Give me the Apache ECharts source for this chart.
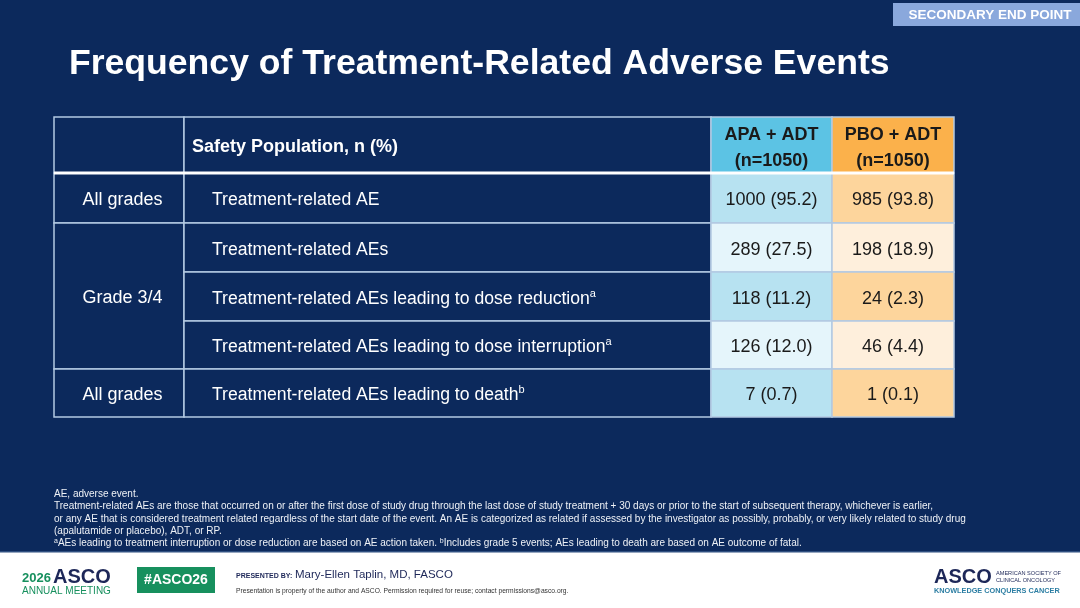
<!DOCTYPE html>
<html>
<head>
<meta charset="utf-8">
<script src="https://cdn.jsdelivr.net/npm/echarts@6.0.0/dist/echarts.min.js"></script>
<style>
  html, body { margin: 0; padding: 0; background: #0c295c; }
  #main { width: 1080px; height: 608px; }
</style>
</head>
<body>
<div id="main"></div>
<script>
// table content
var groupLabels = ['All grades', 'Grade 3/4', 'All grades'];
var groupRows = [[1, 1], [2, 4], [5, 5]];
var itemLabels = [
    'Treatment-related AE',
    'Treatment-related AEs',
    'Treatment-related AEs leading to dose reduction',
    'Treatment-related AEs leading to dose interruption',
    'Treatment-related AEs leading to death'
];
var itemNotes = ['', '', 'a', 'a', 'b'];
var armLabels = ['APA + ADT', 'PBO + ADT'];
var armN = [1050, 1050];
var apaCount = [1000, 289, 118, 126, 7];
var apaPct = ['95.2', '27.5', '11.2', '12.0', '0.7'];
var pboCount = [985, 198, 24, 46, 1];
var pboPct = ['93.8', '18.9', '2.3', '4.4', '0.1'];
var footnotes = [
    'AE, adverse event.',
    'Treatment-related AEs are those that occurred on or after the first dose of study drug through the last dose of study treatment + 30 days or prior to the start of subsequent therapy, whichever is earlier,',
    'or any AE that is considered treatment related regardless of the start date of the event. An AE is categorized as related if assessed by the investigator as possibly, probably, or very likely related to study drug',
    '(apalutamide or placebo), ADT, or RP.',
    '{s|a}AEs leading to treatment interruption or dose reduction are based on AE action taken. {s|b}Includes grade 5 events; AEs leading to death are based on AE outcome of fatal.'
];

// layout of the table (axis units = px)
var colEdges = [0, 130, 657, 778, 900];
var rowEdges = [0, 56, 106, 155, 204, 252, 300];

var navy = '#0c295c';
var lineColor = '#b3c9e2';
var apaFill = ['#5cc3e4', '#b7e2f1', '#e5f5fb'];
var pboFill = ['#fbb14b', '#fdd59c', '#feefdc'];
var FONT = 'Liberation Sans, Arial, sans-serif';

// build the cells: [col, rowStart, rowEnd]
var cellData = [];
var cells = [];
function addCell(c, r0, r1, info) {
    cellData.push([c, r0, r1]);
    cells.push(info);
}
addCell(0, 0, 0, { text: '', fill: navy });
addCell(1, 0, 0, { text: 'Safety Population, n (%)', fill: navy, color: '#fff', bold: true, pad: 8 });
addCell(2, 0, 0, { text: armLabels[0] + '\n(n=' + armN[0] + ')', fill: apaFill[0], color: '#1a1a1a', bold: true, dy: 3 });
addCell(3, 0, 0, { text: armLabels[1] + '\n(n=' + armN[1] + ')', fill: pboFill[0], color: '#1a1a1a', bold: true, dy: 3 });
for (var g = 0; g < groupLabels.length; g++) {
    addCell(0, groupRows[g][0], groupRows[g][1], { text: groupLabels[g], fill: navy, color: '#fff', dx: 3.5 });
}
for (var i = 0; i < itemLabels.length; i++) {
    var shade = i % 2 === 0 ? 1 : 2;
    addCell(1, i + 1, i + 1, {
        text: itemLabels[i] + (itemNotes[i] ? '{sup|' + itemNotes[i] + '}' : ''),
        fill: navy, color: '#fff', pad: 28, size: 17.6
    });
    addCell(2, i + 1, i + 1, { text: apaCount[i] + ' (' + apaPct[i] + ')', fill: apaFill[shade], color: '#1a1a1a' });
    addCell(3, i + 1, i + 1, { text: pboCount[i] + ' (' + pboPct[i] + ')', fill: pboFill[shade], color: '#1a1a1a' });
}

function renderCell(params, api) {
    var c = api.value(0), r0 = api.value(1), r1 = api.value(2);
    var info = cells[params.dataIndex];
    var p0 = api.coord([colEdges[c], rowEdges[r0]]);
    var p1 = api.coord([colEdges[c + 1], rowEdges[r1 + 1]]);
    var w = p1[0] - p0[0], h = p1[1] - p0[1];
    var left = info.pad != null;
    var children = [{
        type: 'rect',
        shape: { x: p0[0], y: p0[1], width: w, height: h },
        style: { fill: info.fill, stroke: lineColor, lineWidth: 1.5 },
        z2: 0
    }, {
        type: 'text',
        x: (left ? p0[0] + info.pad : p0[0] + w / 2) + (info.dx || 0),
        y: p0[1] + h / 2 + (info.dy != null ? info.dy : 2.5),
        style: {
            text: info.text,
            fill: info.color,
            fontFamily: FONT,
            fontSize: info.size || 18,
            fontWeight: info.bold ? 'bold' : 'normal',
            lineHeight: r0 === 0 && c > 1 ? 26 : 22,
            align: left ? 'left' : 'center',
            verticalAlign: 'middle',
            rich: {
                sup: { fontSize: 11, lineHeight: 12, verticalAlign: 'top', fill: info.color, fontFamily: FONT }
            }
        },
        z2: 5
    }];
    if (r0 === 0) {
        children.push({
            type: 'line',
            shape: { x1: p0[0], y1: p1[1], x2: p1[0], y2: p1[1] },
            style: { stroke: '#ffffff', lineWidth: 3 },
            z2: 10
        });
    }
    return { type: 'group', children: children };
}

var graphics = [
    // top tag
    { type: 'rect', shape: { x: 893, y: 3, width: 187, height: 23 }, style: { fill: '#8aa8dc' } },
    { type: 'text', x: 990, y: 15, style: { text: 'SECONDARY END POINT', fill: '#fff', font: 'bold 13.5px ' + FONT, align: 'center', verticalAlign: 'middle' } },
    // footer
    { type: 'rect', shape: { x: 0, y: 552, width: 1080, height: 56 }, style: { fill: '#ffffff' } },
    { type: 'rect', shape: { x: 0, y: 551, width: 1080, height: 1.5 }, style: { fill: '#2f4f80' } },
    { type: 'text', x: 22, y: 578, style: { text: '2026', fill: '#17905e', font: 'bold 13px ' + FONT, verticalAlign: 'middle' } },
    { type: 'text', x: 53, y: 577, style: { text: 'ASCO', fill: '#1d2758', font: 'bold 20px ' + FONT, verticalAlign: 'middle' } },
    { type: 'text', x: 22, y: 591, style: { text: 'ANNUAL MEETING', fill: '#17905e', font: '10px ' + FONT, verticalAlign: 'middle' } },
    { type: 'rect', shape: { x: 137, y: 567, width: 78, height: 26 }, style: { fill: '#17905e' } },
    { type: 'text', x: 176, y: 580, style: { text: '#ASCO26', fill: '#fff', font: 'bold 14px ' + FONT, align: 'center', verticalAlign: 'middle' } },
    { type: 'text', x: 236, y: 576, style: { text: 'PRESENTED BY:', fill: '#1d2758', font: 'bold 7px ' + FONT, verticalAlign: 'middle' } },
    { type: 'text', x: 295, y: 575, style: { text: 'Mary-Ellen Taplin, MD, FASCO', fill: '#1d2758', font: '11.5px ' + FONT, verticalAlign: 'middle' } },
    { type: 'text', x: 236, y: 591, style: { text: 'Presentation is property of the author and ASCO. Permission required for reuse; contact permissions@asco.org.', fill: '#333', font: '6.7px ' + FONT, verticalAlign: 'middle' } },
    { type: 'text', x: 934, y: 577, style: { text: 'ASCO', fill: '#1d2758', font: 'bold 20px ' + FONT, verticalAlign: 'middle' } },
    { type: 'text', x: 996, y: 573, style: { text: 'AMERICAN SOCIETY OF', fill: '#1d2758', font: '5.6px ' + FONT, verticalAlign: 'middle' } },
    { type: 'text', x: 996, y: 580, style: { text: 'CLINICAL ONCOLOGY', fill: '#1d2758', font: '5.6px ' + FONT, verticalAlign: 'middle' } },
    { type: 'text', x: 934, y: 591, style: { text: 'KNOWLEDGE CONQUERS CANCER', fill: '#2c7ea3', font: 'bold 7.3px ' + FONT, verticalAlign: 'middle' } }
];
for (var f = 0; f < footnotes.length; f++) {
    graphics.push({
        type: 'text', x: 54, y: 494.5 + f * 12.2,
        style: {
            text: footnotes[f], fill: '#eef1f6', font: '10px ' + FONT, verticalAlign: 'middle',
            rich: { s: { fontSize: 7, lineHeight: 7, verticalAlign: 'top', fill: '#eef1f6', fontFamily: FONT } },
            lineHeight: 12
        }
    });
}

var chart = echarts.init(document.getElementById('main'));
chart.setOption({
    backgroundColor: navy,
    animation: false,
    title: {
        text: 'Frequency of Treatment-Related Adverse Events',
        left: 64,
        top: 41,
        textStyle: { color: '#fff', fontSize: 35.6, fontWeight: 'bold', fontFamily: FONT }
    },
    grid: { left: 54, top: 117, width: 900, height: 300 },
    xAxis: { type: 'value', min: 0, max: colEdges[colEdges.length - 1], show: false },
    yAxis: { type: 'value', min: 0, max: rowEdges[rowEdges.length - 1], inverse: true, show: false },
    series: [{
        type: 'custom',
        renderItem: renderCell,
        data: cellData,
        clip: false,
        silent: true
    }],
    graphic: graphics
});
</script>
</body>
</html>
